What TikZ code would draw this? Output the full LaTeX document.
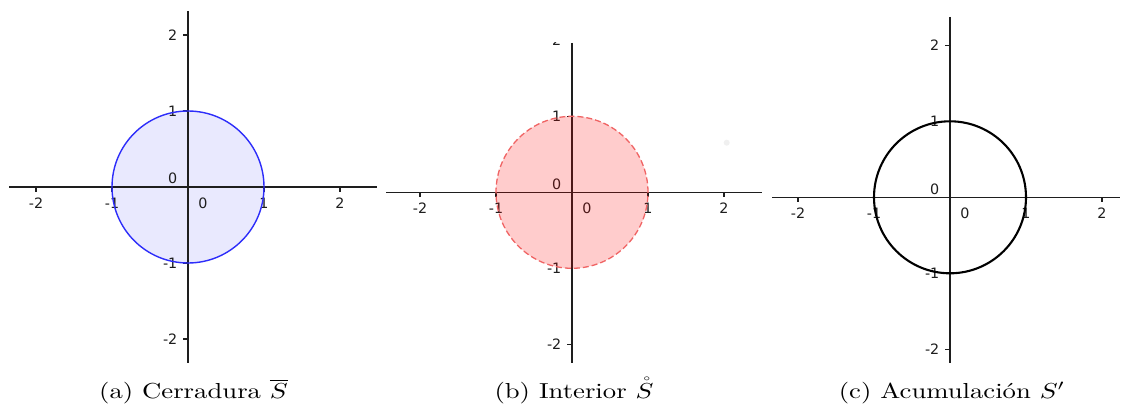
\documentclass[tikz,border=0pt]{standalone}
\usepackage{fontspec}
\newfontfamily\tickfont{DejaVu Sans}
\usetikzlibrary{calc}
\definecolor{axiscol}{RGB}{30,30,30}
\definecolor{circblue}{RGB}{45,45,250}
\definecolor{circred}{RGB}{240,100,100}
\tikzset{
  axisline/.style={draw=axiscol, line width=1.5pt},
  tickmark/.style={draw=axiscol, line width=1.1pt},
  ticklab/.style={font=\tickfont\fontsize{14.3}{15}\selectfont, text=axiscol, inner sep=0pt},
  captext/.style={font=\fontsize{10}{12}\selectfont, anchor=base, inner sep=0pt},
}
\newcommand\capscale[1]{\scalebox{2.67}[2.17]{#1}}
% #1 prefix, #2 ox, #3 oy, #4 x-left, #5 x-right, #6 y-top, #7 y-bottom
\newcommand\drawaxes[7]{%
  \coordinate (#1o) at (#2,#3);
  \coordinate (#1l) at (#4,#3);
  \coordinate (#1r) at (#5,#3);
  \coordinate (#1t) at (#2,#6);
  \coordinate (#1b) at (#2,#7);
  \draw[axisline] (#1l) -- (#1r);
  \draw[axisline] (#1t) -- (#1b);
  \foreach \k in {-2,-1,1,2} {
    \draw[tickmark] ($(#1o)+(\k*76,0)$) -- ++(0,5);
    \node[ticklab] (#1x\k) at ($(#1o)+(\k*76,16)$) {\k};
    \draw[tickmark] ($(#1o)+(0,-\k*76)$) -- ++(-5,0);
    \node[ticklab, anchor=east] (#1y\k) at ($(#1o)+(-10.5,-\k*76)$) {\k};
  }
  \node[ticklab] (#1x0) at ($(#1o)+(15,16)$) {0};
  \node[ticklab, anchor=east] (#1y0) at ($(#1o)+(-10.5,-8.5)$) {0};
}
\begin{document}
\begin{tikzpicture}[x=1pt, y=-1pt]
  \fill[white] (0,0) rectangle (1121,409);
  \useasboundingbox (0,0) rectangle (1121,409);

  % (a) closure
  \coordinate (ca) at (188,187);
  \fill[circblue, fill opacity=0.1] (ca) circle (76pt);
  \drawaxes{a}{188}{187}{9}{377}{11}{363}
  \draw[circblue, line width=1.4pt] (ca) circle (76pt);

  % (b) interior
  \begin{scope}
    \clip (380,43) rectangle (770,409);
    \drawaxes{b}{572}{192.3}{386}{762}{43}{363}
  \end{scope}
  \coordinate (cb) at (572,192.3);
  \fill[red, fill opacity=0.2] (cb) circle (76pt);
  \draw[circred, line width=1.3pt, dash pattern=on 6pt off 3pt] (cb) circle (76pt);
  \fill[black!6] (726.7,142.7) circle (3pt);

  % (c) accumulation
  \drawaxes{c}{950}{197.3}{772}{1120}{17}{363}
  \coordinate (cc) at (950,197.3);
  \draw[black, line width=2.1pt] (cc) circle (76pt);

  % captions
  \node[captext] (capa) at (193.5,398) {\capscale{(a) Cerradura $\overline{S}$}};
  \node[captext] (capb) at (574,398) {\capscale{(b) Interior $\mathring{S}$}};
  \node[captext] (capc) at (952,398) {\capscale{(c) Acumulación $S'$}};
\end{tikzpicture}
\end{document}
